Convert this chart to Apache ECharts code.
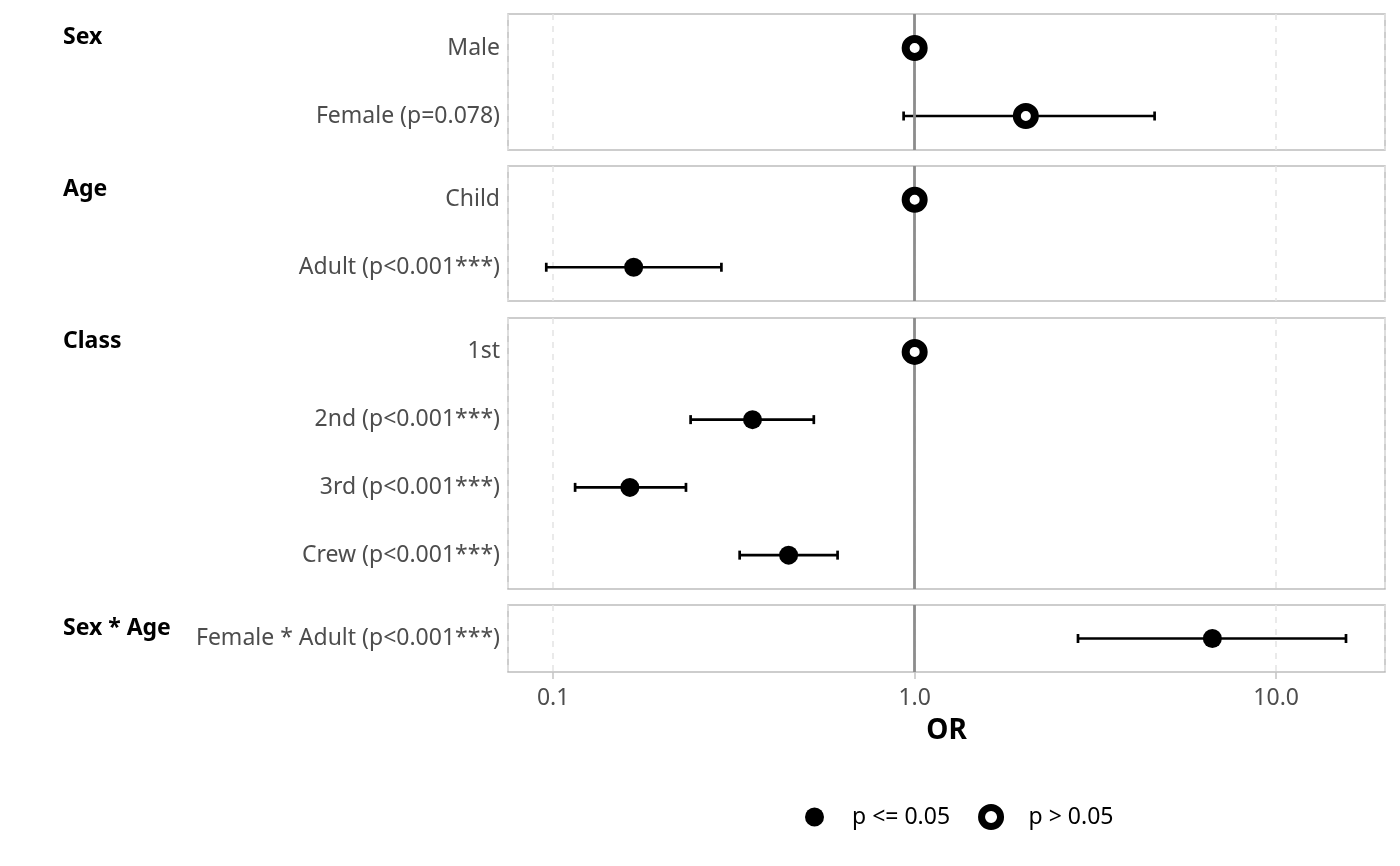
<!DOCTYPE html>
<html>
<head>
<meta charset="utf-8">
<script src="https://cdn.jsdelivr.net/npm/echarts@6/dist/echarts.min.js"></script>
<style>
  html, body { margin: 0; padding: 0; background: #fff; }
  #chart { width: 1400px; height: 866px; }
</style>
</head>
<body>
<div id="chart"></div>
<script>
// odds ratios, one array per panel
const groups = ['Sex', 'Age', 'Class', 'Sex * Age'];
const rowLabels = [
  ['Male', 'Female (p=0.078)'],
  ['Child', 'Adult (p<0.001***)'],
  ['1st', '2nd (p<0.001***)', '3rd (p<0.001***)', 'Crew (p<0.001***)'],
  ['Female * Adult (p<0.001***)']
];
const orValues = [[1, 2.03], [1, 0.167], [1, 0.356, 0.163, 0.448], [6.66]];
const ciLow = [[null, 0.932], [null, 0.0957], [null, 0.240, 0.115, 0.328], [2.83]];
const ciHigh = [[null, 4.61], [null, 0.292], [null, 0.526, 0.233, 0.612], [15.6]];
const significant = [[false, false], [false, true], [false, true, true, true], [true]];

// panel layout
const panelTops = [14, 166, 318, 605];
const panelHeights = [136, 135, 271, 67];
const FONT = 'Noto Sans';
const last = groups.length - 1;

const chart = echarts.init(document.getElementById('chart'));

const grids = [], xAxes = [], yAxes = [], titles = [], series = [];

groups.forEach((g, i) => {
  grids.push({
    left: 508, right: 15, top: panelTops[i], height: panelHeights[i],
    show: true, borderColor: '#bdbdbd', borderWidth: 1.5, backgroundColor: 'transparent'
  });
  xAxes.push({
    type: 'log', logBase: 10, gridIndex: i, min: 0.075, max: 20,
    axisLine: { show: false },
    axisTick: { show: i === last, length: 7, lineStyle: { color: '#c4c4c4', width: 1.5 } },
    axisLabel: {
      show: i === last, margin: 15, fontSize: 23, color: '#4d4d4d', fontFamily: FONT,
      showMinLabel: false, showMaxLabel: false,
      formatter: v => (+v).toFixed(1)
    },
    splitLine: { show: true, lineStyle: { color: '#e3e3e3', width: 1.5, type: [6, 6] } },
    name: i === last ? 'OR' : '',
    nameLocation: 'middle', nameGap: 45,
    nameTextStyle: { fontSize: 28, fontWeight: 'bold', color: '#000', fontFamily: FONT }
  });
  yAxes.push({
    type: 'category', gridIndex: i, data: rowLabels[i], inverse: true,
    axisLine: { show: false }, axisTick: { show: false }, splitLine: { show: false },
    axisLabel: { fontSize: 23, color: '#4d4d4d', margin: 8, fontFamily: FONT, padding: [3, 0, 0, 0] }
  });
  titles.push({
    text: g, left: 63, top: panelTops[i] + 12, padding: 0,
    textStyle: { fontSize: 23, fontWeight: 'bold', color: '#000', fontFamily: FONT }
  });

  const ciData = [], sigData = [], nsData = [];
  orValues[i].forEach((v, j) => {
    if (ciLow[i][j] != null) ciData.push([ciLow[i][j], ciHigh[i][j], j]);
    (significant[i][j] ? sigData : nsData).push([v, j]);
  });

  series.push({
    type: 'custom', name: 'CI', xAxisIndex: i, yAxisIndex: i, z: 2,
    encode: { x: [0, 1], y: 2 },
    data: ciData,
    renderItem: (params, api) => {
      const a = api.coord([api.value(0), api.value(2)]);
      const b = api.coord([api.value(1), api.value(2)]);
      const cap = 4.5;
      const style = { stroke: '#000', lineWidth: 2.7 };
      return {
        type: 'group',
        children: [
          { type: 'line', shape: { x1: a[0], y1: a[1], x2: b[0], y2: b[1] }, style },
          { type: 'line', shape: { x1: a[0], y1: a[1] - cap, x2: a[0], y2: a[1] + cap }, style },
          { type: 'line', shape: { x1: b[0], y1: b[1] - cap, x2: b[0], y2: b[1] + cap }, style }
        ]
      };
    }
  });
  series.push({
    type: 'scatter', name: 'p <= 0.05', xAxisIndex: i, yAxisIndex: i, z: 4,
    symbol: 'circle', symbolSize: 19,
    itemStyle: { color: '#000', opacity: 1 },
    data: sigData,
    markLine: {
      silent: true, symbol: 'none', animation: false,
      label: { show: false },
      lineStyle: { color: '#8c8c8c', width: 2.8, type: 'solid', opacity: 1 },
      emphasis: { disabled: true },
      data: [{ xAxis: 1 }]
    }
  });
  series.push({
    type: 'scatter', name: 'p > 0.05', xAxisIndex: i, yAxisIndex: i, z: 5,
    symbol: 'circle', symbolSize: 18,
    itemStyle: { color: '#fff', borderColor: '#000', borderWidth: 8, opacity: 1 },
    data: nsData
  });
});

chart.setOption({
  animation: false,
  backgroundColor: '#fff',
  textStyle: { fontFamily: FONT },
  title: titles,
  grid: grids,
  xAxis: xAxes,
  yAxis: yAxes,
  legend: {
    left: 805, top: 804, padding: 0, itemGap: 28,
    itemWidth: 19, itemHeight: 19,
    textStyle: { fontSize: 23, color: '#000', fontFamily: FONT, padding: [0, 0, 0, 23] },
    data: [
      { name: 'p <= 0.05', itemStyle: { color: '#000', borderWidth: 0 } },
      { name: 'p > 0.05', itemStyle: { color: '#fff', borderColor: '#000', borderWidth: 7 } }
    ]
  },
  series: series
});
</script>
</body>
</html>
